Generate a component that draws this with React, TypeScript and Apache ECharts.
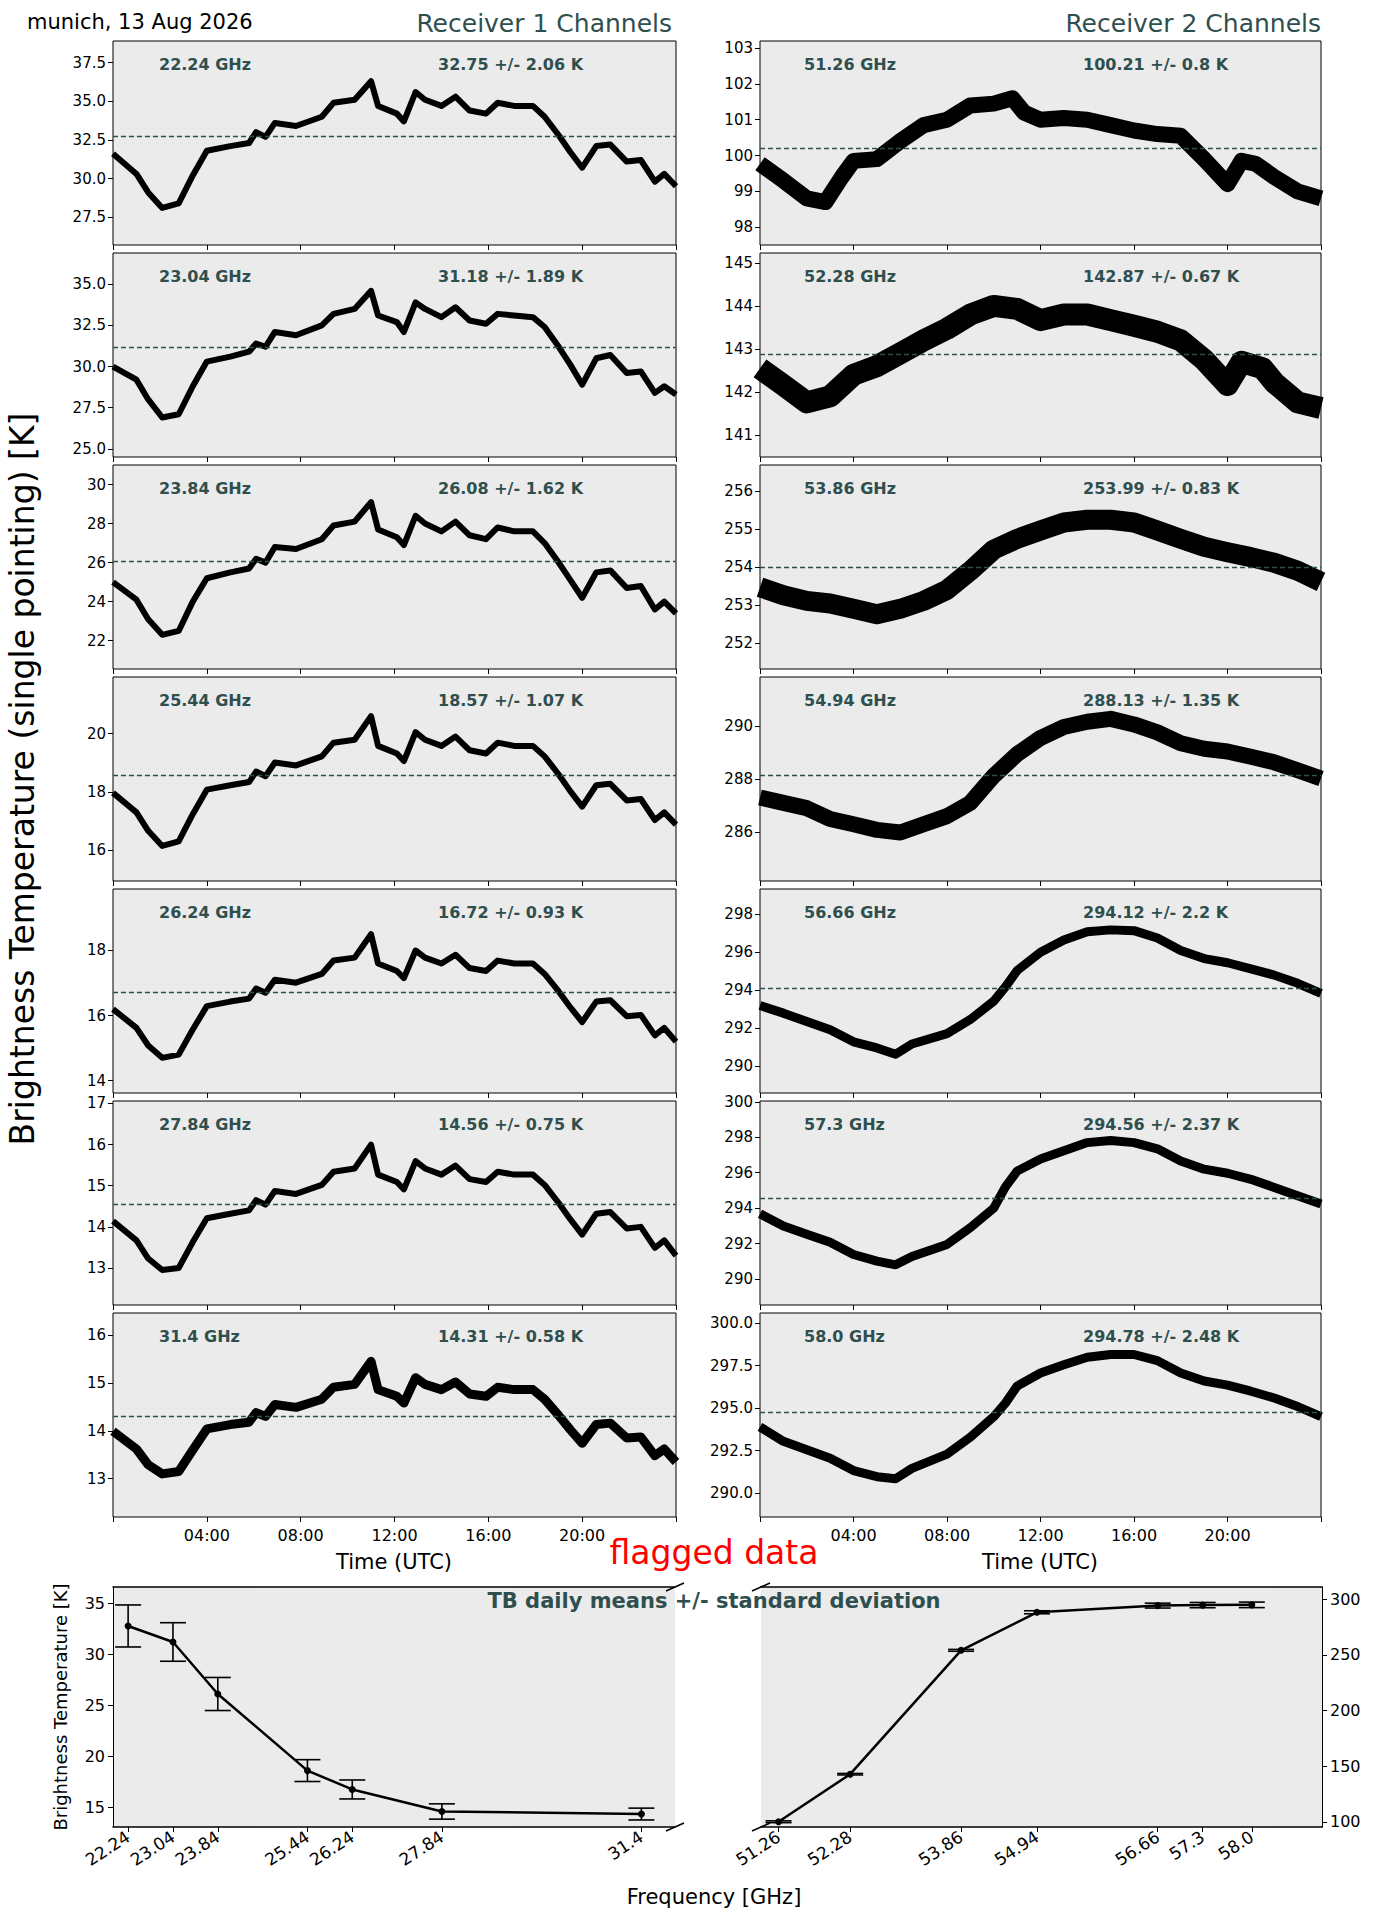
import React, { useEffect, useRef } from "react";
import * as echarts from "echarts";

// ---------- data ----------
const T_R1 = [0,1,1.5,2.1,2.8,3.4,4,5,5.8,6.1,6.5,6.9,7.8,8.9,9.4,10.3,11,11.3,12.1,12.4,12.9,13.3,14,14.6,15.2,15.9,16.4,17.1,17.9,18.4,19,19.5,20,20.6,21.2,21.9,22.5,23.1,23.5,24];
const TB_2224 = [31.6,30.3,29.1,28.1,28.4,30.2,31.8,32.1,32.3,33.0,32.7,33.6,33.4,34.0,34.9,35.1,36.3,34.7,34.2,33.7,35.6,35.1,34.7,35.3,34.4,34.2,34.9,34.7,34.7,34.0,32.8,31.7,30.7,32.1,32.2,31.1,31.2,29.8,30.3,29.5];
const TB_2304 = [30.0,29.2,28.0,26.9,27.1,28.8,30.3,30.6,30.9,31.4,31.2,32.1,31.9,32.5,33.2,33.5,34.6,33.1,32.7,32.1,33.9,33.5,33.0,33.6,32.8,32.6,33.2,33.1,33.0,32.4,31.2,30.1,28.9,30.5,30.7,29.6,29.7,28.4,28.8,28.3];
const TB_2384 = [25.0,24.1,23.1,22.3,22.5,24.0,25.2,25.5,25.7,26.2,26.0,26.8,26.7,27.2,27.9,28.1,29.1,27.7,27.3,26.9,28.4,28.0,27.6,28.1,27.4,27.2,27.8,27.6,27.6,27.0,26.0,25.1,24.2,25.5,25.6,24.7,24.8,23.6,24.0,23.4];
const TB_2544 = [17.97,17.3,16.67,16.15,16.31,17.24,18.08,18.23,18.34,18.7,18.54,19.01,18.91,19.22,19.69,19.79,20.6,19.58,19.32,19.06,20.05,19.79,19.58,19.9,19.43,19.32,19.69,19.58,19.58,19.22,18.6,18.02,17.5,18.23,18.28,17.71,17.76,17.04,17.3,16.88];
const TB_2624 = [16.2,15.62,15.08,14.7,14.8,15.57,16.29,16.43,16.52,16.83,16.7,17.1,17.01,17.28,17.69,17.78,18.5,17.6,17.37,17.15,18.0,17.78,17.6,17.87,17.46,17.37,17.69,17.6,17.6,17.28,16.74,16.25,15.8,16.43,16.47,15.98,16.02,15.39,15.62,15.2];
const TB_2784 = [14.14,13.67,13.23,12.95,13.0,13.63,14.21,14.32,14.4,14.65,14.54,14.87,14.8,15.02,15.34,15.42,16.0,15.27,15.09,14.91,15.6,15.42,15.27,15.49,15.16,15.09,15.34,15.27,15.27,15.02,14.58,14.18,13.81,14.32,14.36,13.96,14.0,13.49,13.67,13.3];
const TB_3140 = [13.99,13.62,13.29,13.1,13.15,13.6,14.04,14.13,14.18,14.38,14.3,14.55,14.49,14.66,14.91,14.97,15.45,14.86,14.72,14.58,15.11,14.97,14.86,15.02,14.77,14.72,14.91,14.86,14.86,14.66,14.32,14.02,13.74,14.13,14.16,13.85,13.87,13.48,13.62,13.35];

const T_5126 = [0,1,2,2.8,3.5,4,5,6,7,8,9,10,10.8,11.3,12,13,14,15,16,17,18,19,20,20.6,21.2,22,23,24];
const TB_5126 = [99.77,99.3,98.8,98.7,99.4,99.85,99.9,100.4,100.85,101.0,101.4,101.45,101.6,101.2,101.0,101.05,101.0,100.85,100.7,100.6,100.55,99.9,99.2,99.85,99.77,99.4,99.0,98.8];
const T_5228 = [0,1,2,3,4,5,6,7,8,9,10,11,12,13,14,15,16,17,18,19,20,20.6,21.5,22,23,24];
const TB_5228 = [142.55,142.16,141.76,141.9,142.4,142.6,142.9,143.2,143.47,143.8,144.0,143.93,143.67,143.8,143.8,143.67,143.54,143.4,143.2,142.75,142.16,142.7,142.55,142.22,141.76,141.63];
const T_HOURLY = [0,1,2,3,4,5,6,7,8,9,10,11,12,13,14,15,16,17,18,19,20,21,22,23,24];
const TB_5386 = [253.47,253.26,253.11,253.04,252.9,252.76,252.9,253.11,253.4,253.9,254.46,254.74,254.96,255.17,255.24,255.24,255.17,254.96,254.74,254.53,254.39,254.26,254.11,253.9,253.61];
const TB_5494 = [287.3,287.1,286.9,286.49,286.29,286.08,285.98,286.29,286.6,287.1,288.12,288.94,289.55,289.96,290.16,290.27,290.06,289.76,289.35,289.14,289.04,288.84,288.63,288.33,288.02];
const T_R2B = [0,1,2,3,4,5,5.8,6.5,8,9,10,10.5,11,12,13,14,15,16,17,18,19,20,21,22,23,24];
const TB_5666 = [293.2,292.8,292.36,291.93,291.29,290.97,290.64,291.18,291.72,292.47,293.43,294.18,295.04,296.0,296.65,297.08,297.18,297.14,296.75,296.1,295.67,295.45,295.13,294.8,294.37,293.84];
const TB_5730 = [293.68,292.99,292.53,292.07,291.38,291.01,290.8,291.27,291.95,292.9,294.0,295.2,296.09,296.78,297.24,297.7,297.82,297.7,297.35,296.66,296.2,295.97,295.63,295.17,294.7,294.24];
const TB_5800 = [293.9,293.05,292.56,292.06,291.33,290.97,290.85,291.46,292.3,293.3,294.5,295.3,296.3,297.07,297.55,298.0,298.16,298.16,297.8,297.07,296.6,296.36,296.0,295.6,295.1,294.5];

const FREQ_R1 = [22.24,23.04,23.84,25.44,26.24,27.84,31.4];
const FREQ_R1_LABELS = ["22.24","23.04","23.84","25.44","26.24","27.84","31.4"];
const MEAN_R1 = [32.75,31.18,26.08,18.57,16.72,14.56,14.31];
const STD_R1 = [2.06,1.89,1.62,1.07,0.93,0.75,0.58];
const FREQ_R2 = [51.26,52.28,53.86,54.94,56.66,57.3,58.0];
const FREQ_R2_LABELS = ["51.26","52.28","53.86","54.94","56.66","57.3","58.0"];
const MEAN_R2 = [100.21,142.87,253.99,288.13,294.12,294.56,294.78];
const STD_R2 = [0.8,0.67,0.83,1.35,2.2,2.37,2.48];

const R1 = [
  { t: T_R1, v: TB_2224, ylim: [25.7, 38.9], ticks: [27.5,30,32.5,35,37.5], dec: 1 },
  { t: T_R1, v: TB_2304, ylim: [24.5, 36.9], ticks: [25,27.5,30,32.5,35], dec: 1 },
  { t: T_R1, v: TB_2384, ylim: [20.55, 31.0], ticks: [22,24,26,28,30], dec: 0 },
  { t: T_R1, v: TB_2544, ylim: [14.95, 21.94], ticks: [16,18,20], dec: 0 },
  { t: T_R1, v: TB_2624, ylim: [13.62, 19.89], ticks: [14,16,18], dec: 0 },
  { t: T_R1, v: TB_2784, ylim: [12.1, 17.06], ticks: [13,14,15,16,17], dec: 0 },
  { t: T_R1, v: TB_3140, ylim: [12.2, 16.46], ticks: [13,14,15,16], dec: 0 },
];
const R2 = [
  { t: T_5126, v: TB_5126, ylim: [97.5, 103.2], ticks: [98,99,100,101,102,103], dec: 0 },
  { t: T_5228, v: TB_5228, ylim: [140.49, 145.23], ticks: [141,142,143,144,145], dec: 0 },
  { t: T_HOURLY, v: TB_5386, ylim: [251.32, 256.68], ticks: [252,253,254,255,256], dec: 0 },
  { t: T_HOURLY, v: TB_5494, ylim: [284.15, 291.85], ticks: [286,288,290], dec: 0 },
  { t: T_R2B, v: TB_5666, ylim: [288.6, 299.33], ticks: [290,292,294,296,298], dec: 0 },
  { t: T_R2B, v: TB_5730, ylim: [288.53, 300.05], ticks: [290,292,294,296,298,300], dec: 0 },
  { t: T_R2B, v: TB_5800, ylim: [288.6, 300.6], ticks: [290,292.5,295,297.5,300], dec: 1 },
];
const R1_WIDTH = [6, 6, 6, 6, 6, 6, 9];
const R2_WIDTH = [16, 22, 20, 16, 9, 9, 9];

const FONT = "DejaVu Sans";
const SLATE = "#2F4F4F";

export default function App() {
  const ref = useRef<HTMLDivElement>(null);
  useEffect(() => {
    const chart = echarts.init(ref.current!, null, { renderer: "svg" });
    const grids: any[] = [], xAxes: any[] = [], yAxes: any[] = [], series: any[] = [], graphics: any[] = [];
    const TOP0 = 41, PITCH = 212, H = 204;
    const cols = [{ left: 113, width: 563, ch: R1, mean: MEAN_R1, std: STD_R1, w: R1_WIDTH, tx: 159, sx: 438 },
                  { left: 760, width: 561, ch: R2, mean: MEAN_R2, std: STD_R2, w: R2_WIDTH, tx: 804, sx: 1083 }];
    cols.forEach((c, ci) => {
      c.ch.forEach((ch, i) => {
        const gi = grids.length;
        const top = TOP0 + i * PITCH;
        grids.push({ left: c.left, top, width: c.width, height: H, show: true, backgroundColor: "#EBEBEB", borderColor: "#000", borderWidth: 1 });
        xAxes.push({
          type: "value", gridIndex: gi, min: 0, max: 24, interval: 4,
          axisLine: { show: false }, splitLine: { show: false },
          axisTick: { show: true, inside: false, length: 5, lineStyle: { color: "#000" } },
          axisLabel: {
            show: i === 6, margin: 10, fontFamily: FONT, fontSize: 16, color: "#000",
            formatter: (v: number) => (v > 0 && v < 24 ? String(v).padStart(2, "0") + ":00" : ""),
          },
        });
        yAxes.push({
          type: "value", gridIndex: gi, min: ch.ylim[0], max: ch.ylim[1],
          axisLine: { show: false }, splitLine: { show: false },
          axisTick: { show: true, customValues: ch.ticks, length: 5, lineStyle: { color: "#000" } },
          axisLabel: { customValues: ch.ticks, fontFamily: FONT, fontSize: 15, color: "#000", margin: 7, formatter: (v: number) => v.toFixed(ch.dec) },
        });
        series.push({
          type: "line", xAxisIndex: gi, yAxisIndex: gi, showSymbol: false, symbol: "none", clip: true,
          data: ch.t.map((t, k) => [t, ch.v[k]]),
          lineStyle: { color: "#000", width: c.w[i], cap: "butt", join: "round" },
          markLine: {
            silent: true, symbol: "none", label: { show: false },
            lineStyle: { color: SLATE, type: [5, 3], width: 1.3 },
            data: [{ yAxis: c.mean[i] }],
          },
        });
        const fg = (ci === 0 ? FREQ_R1_LABELS : FREQ_R2_LABELS)[i];
        graphics.push({ type: "text", z: 100, x: c.tx, y: top + 23, style: { text: fg + " GHz", fill: SLATE, font: `bold 16px "${FONT}"`, verticalAlign: "middle" } });
        graphics.push({ type: "text", z: 100, x: c.sx, y: top + 23, style: { text: `${c.mean[i]} +/- ${c.std[i]} K`, fill: SLATE, font: `bold 16px "${FONT}"`, verticalAlign: "middle" } });
      });
    });

    // bottom panels
    const BT = 1587, BH = 240;
    const bottom = [
      { left: 113, width: 562, freq: FREQ_R1, labels: FREQ_R1_LABELS, mean: MEAN_R1, std: STD_R1, xlim: [21.97, 32.0], ylim: [13.04, 36.57], ticks: [15,20,25,30,35], pos: "left" },
      { left: 761, width: 561, freq: FREQ_R2, labels: FREQ_R2_LABELS, mean: MEAN_R2, std: STD_R2, xlim: [51.01, 59.0], ylim: [95.5, 310.8], ticks: [100,150,200,250,300], pos: "right" },
    ];
    bottom.forEach((b) => {
      const gi = grids.length;
      grids.push({ left: b.left, top: BT, width: b.width, height: BH, show: true, backgroundColor: "#EBEBEB", borderWidth: 0 });
      const xi = xAxes.length;
      xAxes.push({
        type: "value", gridIndex: gi, min: b.xlim[0], max: b.xlim[1],
        axisLine: { show: true, lineStyle: { color: "#000", width: 1.5 } }, splitLine: { show: false },
        axisTick: { show: true, customValues: b.freq, length: 5, lineStyle: { color: "#000" } },
        axisLabel: {
          customValues: b.freq, rotate: 33, fontFamily: FONT, fontSize: 17, color: "#000", margin: 8,
          formatter: (v: number) => { const k = b.freq.findIndex((f) => Math.abs(f - v) < 1e-6); return k >= 0 ? b.labels[k] : ""; },
        },
      });
      xAxes.push({
        type: "value", gridIndex: gi, position: "top", min: b.xlim[0], max: b.xlim[1],
        axisLine: { show: true, lineStyle: { color: "#000", width: 1.5 } }, splitLine: { show: false },
        axisTick: { show: false }, axisLabel: { show: false },
      });
      yAxes.push({
        type: "value", gridIndex: gi, position: b.pos, min: b.ylim[0], max: b.ylim[1],
        axisLine: { show: true, lineStyle: { color: "#000", width: 1 } }, splitLine: { show: false },
        axisTick: { show: true, customValues: b.ticks, length: 5, lineStyle: { color: "#000" } },
        axisLabel: { customValues: b.ticks, fontFamily: FONT, fontSize: 16, color: "#000", margin: 8 },
      });
      series.push({
        type: "line", xAxisIndex: xi, yAxisIndex: gi, symbol: "circle", symbolSize: 7,
        data: b.freq.map((f, k) => [f, b.mean[k]]),
        itemStyle: { color: "#000" }, lineStyle: { color: "#000", width: 2.5 },
      });
      series.push({
        type: "custom", xAxisIndex: xi, yAxisIndex: gi, encode: { x: 0, y: 1 },
        data: b.freq.map((f, k) => [f, b.mean[k], b.std[k]]),
        renderItem: (params: any, api: any) => {
          const x = api.value(0), m = api.value(1), s = api.value(2);
          const p1 = api.coord([x, m + s]), p2 = api.coord([x, m - s]);
          const w = 13, st = { stroke: "#000", lineWidth: 1.6 };
          return {
            type: "group", children: [
              { type: "line", shape: { x1: p1[0], y1: p1[1], x2: p2[0], y2: p2[1] }, style: st },
              { type: "line", shape: { x1: p1[0] - w, y1: p1[1], x2: p1[0] + w, y2: p1[1] }, style: st },
              { type: "line", shape: { x1: p2[0] - w, y1: p2[1], x2: p2[0] + w, y2: p2[1] }, style: st },
            ],
          };
        },
      });
    });
    [675, 761].forEach((x) => [BT, BT + BH].forEach((y) => {
      graphics.push({ type: "line", z: 100, shape: { x1: x - 9, y1: y + 4, x2: x + 9, y2: y - 4 }, style: { stroke: "#000", lineWidth: 1.5 } });
    }));

    const txt = (x: number, y: number, text: string, font: string, fill = "#000", align = "center", rotation = 0) =>
      ({ type: "text", z: 100, x, y, rotation, style: { text, font, fill, align, verticalAlign: "middle" } });
    graphics.push(txt(27, 22, "munich, 13 Aug 2026", `21px "${FONT}"`, "#000", "left"));
    graphics.push(txt(672, 23, "Receiver 1 Channels", `25px "${FONT}"`, SLATE, "right"));
    graphics.push(txt(1321, 23, "Receiver 2 Channels", `25px "${FONT}"`, SLATE, "right"));
    graphics.push(txt(394, 1562, "Time (UTC)", `21px "${FONT}"`));
    graphics.push(txt(1040, 1562, "Time (UTC)", `21px "${FONT}"`));
    graphics.push(txt(714, 1552, "flagged data", `33px "${FONT}"`, "#FF0000"));
    graphics.push(txt(714, 1601, "TB daily means +/- standard deviation", `bold 21px "${FONT}"`, SLATE));
    graphics.push(txt(714, 1897, "Frequency [GHz]", `21px "${FONT}"`));
    graphics.push(txt(60, 1707, "Brightness Temperature [K]", `18px "${FONT}"`, "#000", "center", Math.PI / 2));
    graphics.push(txt(22, 779, "Brightness Temperature (single pointing) [K]", `33px "${FONT}"`, "#000", "center", Math.PI / 2));

    chart.setOption({
      animation: false,
      backgroundColor: "#fff",
      grid: grids, xAxis: xAxes, yAxis: yAxes, series, graphic: graphics,
    });
    return () => chart.dispose();
  }, []);
  return <div ref={ref} style={{ position: "absolute", left: 0, top: 0, width: 1384, height: 1927 }} />;
}
